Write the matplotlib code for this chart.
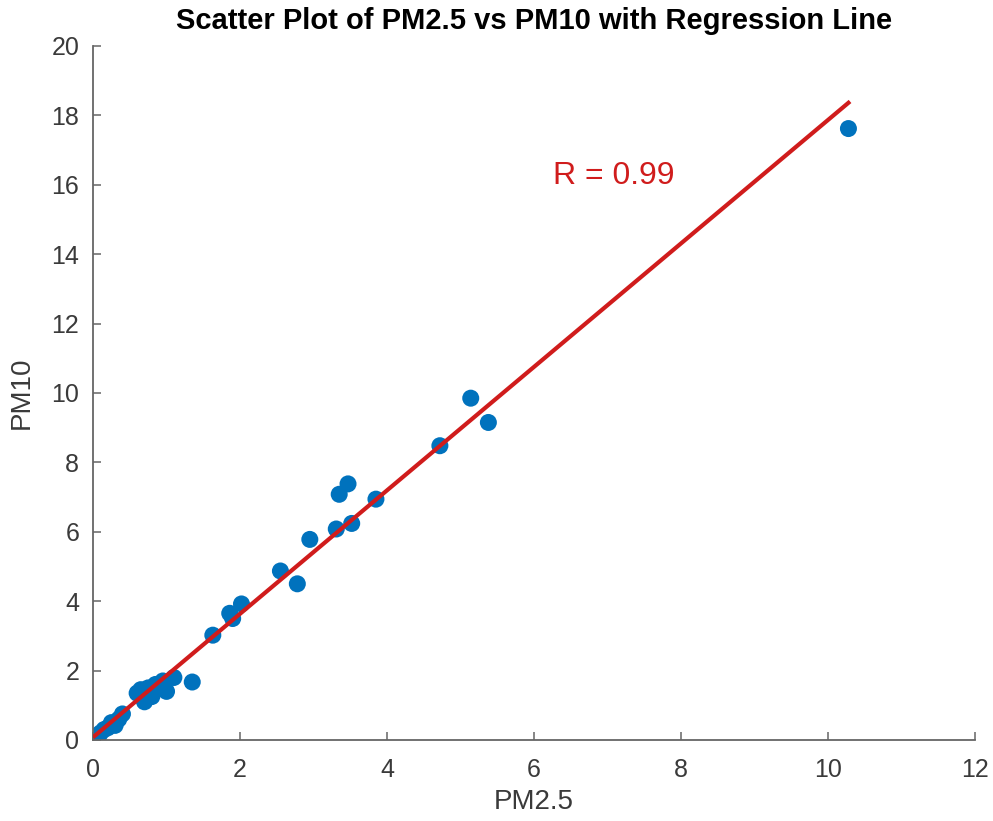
import matplotlib.pyplot as plt
import numpy as np

plt.rcParams['font.family'] = ['Liberation Sans', 'DejaVu Sans']

# values
pm25 = [0.02, 0.05, 0.08, 0.10, 0.15, 0.20, 0.25, 0.30, 0.35, 0.40,
        0.60, 0.65, 0.70, 0.75, 0.80, 0.85, 0.90, 0.95, 1.00, 1.10,
        1.35, 1.63, 1.86, 1.90, 2.02, 2.55, 2.78, 2.95, 3.31, 3.35,
        3.47, 3.52, 3.85, 4.72, 5.14, 5.38, 10.28]
pm10 = [0.05, 0.10, 0.15, 0.20, 0.30, 0.35, 0.50, 0.42, 0.60, 0.75,
        1.35, 1.45, 1.10, 1.50, 1.25, 1.60, 1.55, 1.70, 1.40, 1.80,
        1.67, 3.02, 3.65, 3.50, 3.92, 4.87, 4.50, 5.78, 6.08, 7.08,
        7.38, 6.24, 6.94, 8.48, 9.85, 9.15, 17.62]

x = np.array(pm25)
y = np.array(pm10)

# regression + correlation
slope, icept = np.polyfit(x, y, 1)
r = np.corrcoef(x, y)[0, 1]
xfit = np.array([x.min(), x.max()])
yfit = slope * xfit + icept

fig = plt.figure(figsize=(9.93, 8.21), dpi=100)
ax = fig.add_axes([0.0937, 0.0987, 0.888, 0.8453])

ax.scatter(x, y, s=150, color='#0072BD', edgecolors='none', zorder=2)
ax.plot(xfit, yfit, color='#d01c1c', linewidth=3, zorder=3)
ax.text(6.26, 16.25, 'R = %.2f' % r, color='#d01c1c', fontsize=23, va='center', ha='left')

ax.set_xlim(0, 12)
ax.set_ylim(0, 20)
ax.set_xticks(np.arange(0, 13, 2))
ax.set_yticks(np.arange(0, 21, 2))

gray = '#666666'
for side in ['top', 'right']:
    ax.spines[side].set_visible(False)
for side in ['left', 'bottom']:
    ax.spines[side].set_color(gray)
    ax.spines[side].set_linewidth(1.3)
ax.tick_params(direction='in', length=6, width=1.1, color=gray,
               labelsize=18, labelcolor='#3a3a3a', pad=10)
ax.tick_params(axis='x', pad=13)

ax.set_xlabel('PM2.5', fontsize=20, color='#3a3a3a', labelpad=5)
ax.set_ylabel('PM10', fontsize=20, color='#3a3a3a', labelpad=12)
ax.set_title('Scatter Plot of PM2.5 vs PM10 with Regression Line',
             fontsize=21, fontweight='bold', pad=12)

plt.savefig('out.png', dpi=100)
